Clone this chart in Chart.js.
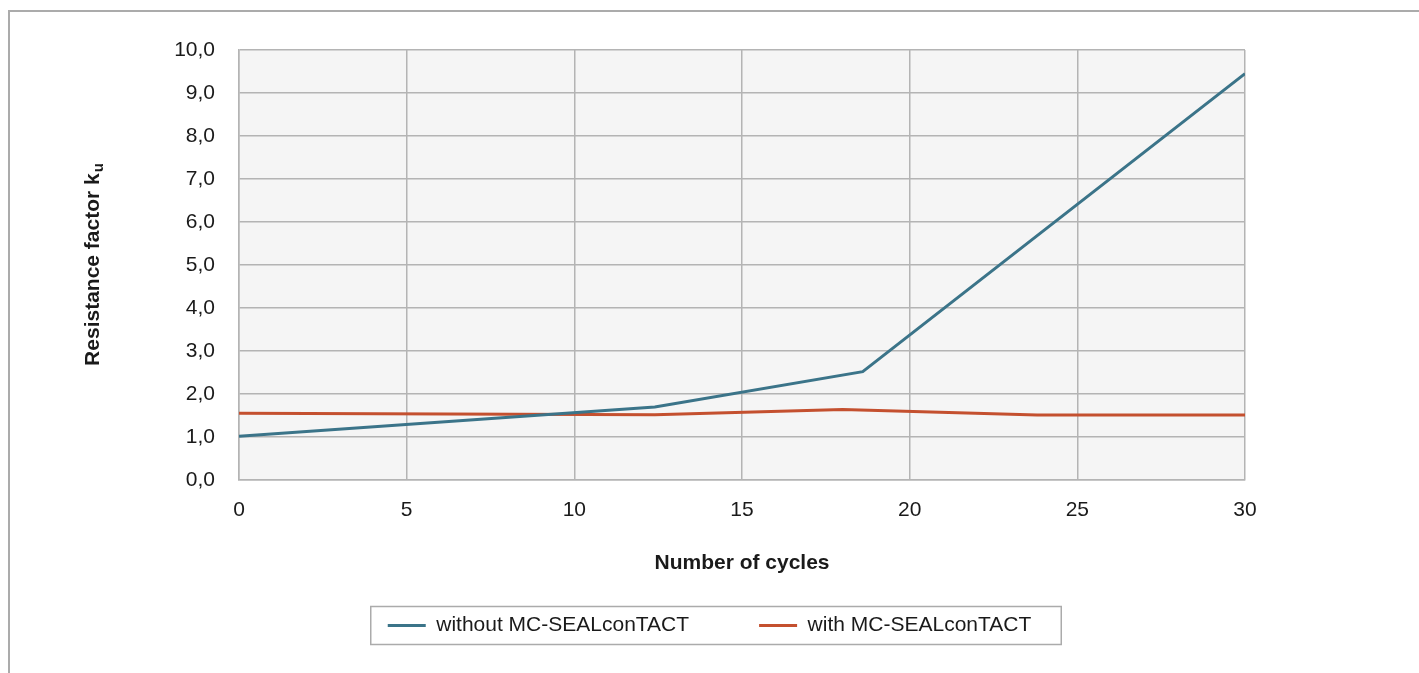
<!DOCTYPE html>
<html>
<head>
<meta charset="utf-8">
<script src="https://cdn.jsdelivr.net/npm/chart.js@4/dist/chart.umd.min.js"></script>
<style>
  html, body { margin: 0; padding: 0; background: #ffffff; overflow: hidden; }
  #frame { position: absolute; left: 8px; top: 10px; width: 1600px; height: 900px;
           border-top: 2px solid #ababab; border-left: 2px solid #ababab; }
  #wrap { position: absolute; left: 0; top: 0; width: 1419px; height: 673px; }
</style>
</head>
<body>
<div id="frame"></div>
<div id="wrap"><canvas id="c" width="1419" height="673"></canvas></div>
<script>
// ---- data ----
const seriesNames = ['without MC-SEALconTACT', 'with MC-SEALconTACT'];
const cyclesWithout = [0, 12.4, 18.6, 30];
const valuesWithout = [1.02, 1.70, 2.52, 9.45];
const cyclesWith = [0, 12.4, 18.0, 23.8, 30];
const valuesWith = [1.55, 1.52, 1.64, 1.51, 1.51];
const xTicks = [0, 5, 10, 15, 20, 25, 30];
const yTicks = [0, 1, 2, 3, 4, 5, 6, 7, 8, 9, 10];
const xTitle = 'Number of cycles';
const yTitleMain = 'Resistance factor k';
const yTitleSub = 'u';

const FONT = '"Liberation Sans", Arial, Helvetica, sans-serif';
const BLUE = '#3b7489';
const RED = '#c4502f';
const GRID = '#b4b4b4';

const toXY = (xs, ys) => xs.map((x, i) => ({ x: x, y: ys[i] }));

const plotBg = {
  id: 'plotBg',
  beforeDraw(chart) {
    const { ctx, chartArea: a } = chart;
    ctx.save();
    ctx.fillStyle = '#f5f5f5';
    ctx.fillRect(a.left, a.top, a.right - a.left, a.bottom - a.top);
    ctx.restore();
  }
};

const extras = {
  id: 'extras',
  afterDraw(chart) {
    const { ctx, chartArea: a } = chart;
    // y axis title with subscript
    ctx.save();
    ctx.translate(93, (a.top + a.bottom) / 2);
    ctx.rotate(-Math.PI / 2);
    ctx.fillStyle = '#1a1a1a';
    ctx.font = 'bold 21px ' + FONT;
    const w1 = ctx.measureText(yTitleMain).width;
    ctx.font = 'bold 15px ' + FONT;
    const w2 = ctx.measureText(yTitleSub).width;
    const start = -(w1 + w2) / 2;
    ctx.textBaseline = 'middle';
    ctx.textAlign = 'left';
    ctx.font = 'bold 21px ' + FONT;
    ctx.fillText(yTitleMain, start, 0);
    ctx.font = 'bold 15px ' + FONT;
    ctx.fillText(yTitleSub, start + w1 + 1, 6);
    ctx.restore();

    // legend frame
    const hb = chart.legend.legendHitBoxes;
    if (hb && hb.length) {
      const l = hb[0].left - 17;
      const last = hb[hb.length - 1];
      const r = last.left + last.width + 30;
      const cy = hb[0].top + hb[0].height / 2;
      ctx.save();
      ctx.strokeStyle = '#ababab';
      ctx.lineWidth = 1.5;
      ctx.strokeRect(l, cy - 19, r - l, 38);
      ctx.restore();
    }
  }
};

new Chart(document.getElementById('c'), {
  type: 'line',
  data: {
    datasets: [
      { label: seriesNames[0], data: toXY(cyclesWithout, valuesWithout),
        borderColor: BLUE, backgroundColor: BLUE, borderWidth: 3, pointRadius: 0, tension: 0 },
      { label: seriesNames[1], data: toXY(cyclesWith, valuesWith),
        borderColor: RED, backgroundColor: RED, borderWidth: 3, pointRadius: 0, tension: 0 }
    ]
  },
  options: {
    responsive: false,
    animation: false,
    layout: { padding: { left: 0, right: 0, top: 50, bottom: 27 } },
    plugins: {
      tooltip: { enabled: false },
      legend: {
        position: 'bottom',
        labels: {
          color: '#1a1a1a',
          font: { family: FONT, size: 21 },
          boxWidth: 38,
          boxHeight: 3,
          padding: 70,
          generateLabels(chart) {
            return chart.data.datasets.map((ds, i) => ({
              text: ds.label, fillStyle: ds.borderColor, strokeStyle: ds.borderColor,
              lineWidth: 0, hidden: false, datasetIndex: i, fontColor: '#1a1a1a'
            }));
          }
        }
      }
    },
    scales: {
      x: {
        type: 'linear', min: 0, max: 30,
        afterBuildTicks(scale) { scale.ticks = xTicks.map(v => ({ value: v })); },
        afterFit(scale) { scale.height = 65; },
        ticks: { color: '#1a1a1a', font: { family: FONT, size: 21 }, padding: 18, maxRotation: 0 },
        grid: { color: GRID, lineWidth: 1.5, drawTicks: false },
        border: { color: GRID, width: 1.5 },
        title: { display: true, text: xTitle, color: '#1a1a1a',
                 font: { family: FONT, size: 21, weight: 'bold' }, padding: { top: 0, bottom: -31 } }
      },
      y: {
        type: 'linear', min: 0, max: 10,
        afterBuildTicks(scale) { scale.ticks = yTicks.map(v => ({ value: v })); },
        afterFit(scale) { scale.width = 239; },
        ticks: { color: '#1a1a1a', font: { family: FONT, size: 21 }, padding: 24,
                 callback: v => v.toFixed(1).replace('.', ',') },
        grid: { color: GRID, lineWidth: 1.5, drawTicks: false },
        border: { color: GRID, width: 1.5 }
      },
      yRightSpace: {
        type: 'linear', position: 'right', min: 0, max: 10,
        afterFit(scale) { scale.width = 174; },
        ticks: { display: false },
        grid: { display: false, drawTicks: false },
        border: { display: false }
      }
    }
  },
  plugins: [plotBg, extras]
});
</script>
</body>
</html>
